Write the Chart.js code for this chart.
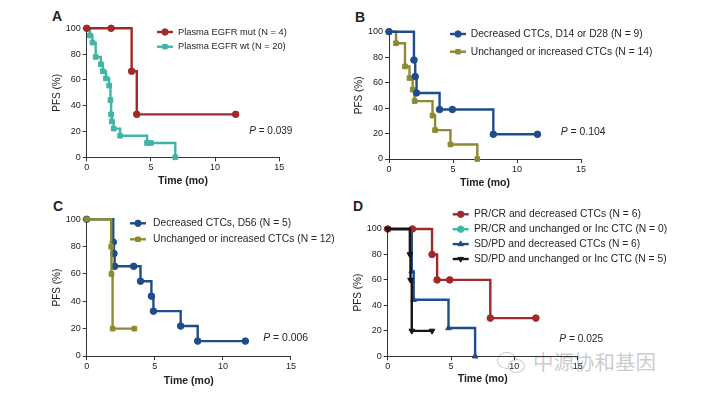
<!DOCTYPE html>
<html>
<head>
<meta charset="utf-8">
<script src="https://cdn.jsdelivr.net/npm/chart.js@4/dist/chart.umd.min.js"></script>
<style>
    body { margin: 0; background: #fff; width: 720px; height: 394px; position: relative; overflow: hidden;
        font-family: "Liberation Sans", Arial, sans-serif; }
    canvas { position: absolute; left: 0; top: 0; }
    .tag { position: absolute; font-weight: bold; font-size: 14px; line-height: 14px; color: #222; }
    .wm { position: absolute; left: 533px; top: 349px; font-family: "Noto Sans CJK SC", sans-serif;
        font-size: 20.5px; line-height: 24px; color: rgba(160,160,160,0.55); }
    .wm-icon { position: absolute; left: 497px; top: 352px; width: 18px; height: 15px;
        border: 1.5px solid rgba(160,160,160,0.55); border-radius: 50%; }
    .wm-icon2 { position: absolute; left: 508px; top: 359px; width: 15px; height: 12px;
        border: 1.5px solid rgba(160,160,160,0.55); border-radius: 50%; background: #fff; }
</style>
</head>
<body>
<div class="tag" style="left:52px;top:9px">A</div>
<div class="tag" style="left:355px;top:10px">B</div>
<div class="tag" style="left:53px;top:199px">C</div>
<div class="tag" style="left:353px;top:199px">D</div>
<div class="wm-icon"></div><div class="wm-icon2"></div>
<div class="wm">中源协和基因</div>

<canvas id="chartA" width="720" height="394"></canvas>
<canvas id="chartB" width="720" height="394"></canvas>
<canvas id="chartC" width="720" height="394"></canvas>
<canvas id="chartD" width="720" height="394"></canvas>

<script>
// ---- data (time in months, PFS in %) ----
const xTicks = [0, 5, 10, 15];
const yTicks = [0, 20, 40, 60, 80, 100];

// A
const aMutTime = [0, 1.9, 3.5, 3.9, 11.6];
const aMutPfs  = [100, 100, 66.7, 33.3, 33.3];
const aWtTime  = [0, 0.25, 0.45, 0.7, 1.1, 1.25, 1.5, 1.75, 1.85, 1.9, 1.95, 2.1, 2.6, 4.7, 5.0, 6.9];
const aWtPfs   = [100, 94.4, 88.9, 77.8, 72.2, 66.7, 61.1, 55.6, 44.4, 33.3, 27.8, 22.2, 16.7, 11.1, 11.1, 0];
const aLabels  = ['Plasma EGFR mut (N = 4)', 'Plasma EGFR wt (N = 20)'];
const aP = '0.039';

// B
const bDecTime = [0, 1.95, 2.05, 2.15, 3.95, 4.95, 8.15, 11.6];
const bDecPfs  = [100, 77.8, 64.8, 51.9, 38.9, 38.9, 19.4, 19.4];
const bIncTime = [0, 0.55, 1.25, 1.6, 1.85, 2.0, 3.4, 3.6, 4.8, 6.9];
const bIncPfs  = [100, 90.9, 72.7, 63.6, 54.5, 45.5, 34.1, 22.7, 11.4, 0];
const bLabels  = ['Decreased CTCs, D14 or D28 (N = 9)', 'Unchanged or increased CTCs (N = 14)'];
const bP = '0.104';

// C
const cDecTime = [0, 1.95, 2.0, 2.05, 3.45, 3.95, 4.75, 4.9, 6.9, 8.15, 11.65];
const cDecPfs  = [100, 83.3, 75, 65.6, 65.6, 54.7, 43.8, 32.8, 21.9, 10.9, 10.9];
const cIncTime = [0, 1.8, 1.82, 1.9, 3.5];
const cIncPfs  = [100, 80, 60, 20, 20];
const cLabels  = ['Decreased CTCs, D56 (N = 5)', 'Unchanged or increased CTCs (N = 12)'];
const cP = '0.006';

// D
const dPrDecTime = [0, 1.95, 3.5, 3.9, 4.9, 8.1, 11.7];
const dPrDecPfs  = [100, 100, 80, 60, 60, 30, 30];
const dPrIncTime = [];
const dPrIncPfs  = [];
const dSdDecTime = [0, 1.9, 2.05, 4.8, 6.9];
const dSdDecPfs  = [100, 66.7, 44.4, 22.2, 0];
const dSdIncTime = [0, 1.75, 1.8, 1.9, 3.5];
const dSdIncPfs  = [100, 80, 60, 20, 20];
const dLabels = ['PR/CR and decreased CTCs (N = 6)', 'PR/CR and unchanged or Inc CTC (N = 0)',
    'SD/PD and decreased CTCs (N = 6)', 'SD/PD and unchanged or Inc CTC (N = 5)'];
const dP = '0.025';

const FONT = '"Liberation Sans", Arial, sans-serif';
const RED = '#a1282b', TEAL = '#3fb5a6', BLUE = '#1f4c8a', OLIVE = '#8c8a33', BLACK = '#151515';

function km(label, t, s, color, style, extra) {
    return Object.assign({
        label: label,
        data: t.map((x, i) => ({ x: x, y: s[i] })),
        borderColor: color,
        backgroundColor: color,
        borderWidth: 2.4,
        stepped: true,
        pointStyle: style,
        pointRadius: 3.3,
        pointBorderWidth: 1,
        pointHoverRadius: 3.3,
        clip: false,
        fill: false
    }, extra || {});
}

// legend + P value drawn onto the canvas
const kmText = {
    id: 'kmText',
    afterDraw(chart, args, o) {
        const ctx = chart.ctx;
        ctx.save();
        chart.data.datasets.forEach((ds, i) => {
            const y = o.y + i * o.dy;
            ctx.strokeStyle = ds.borderColor;
            ctx.lineWidth = 2.4;
            ctx.beginPath();
            ctx.moveTo(o.x, y);
            ctx.lineTo(o.x + 16, y);
            ctx.stroke();
            ctx.fillStyle = ds.borderColor;
            ctx.lineWidth = 1;
            Chart.helpers.drawPoint(ctx, {
                pointStyle: ds.pointStyle, radius: 3.2, rotation: ds.pointRotation || 0, borderWidth: 1
            }, o.x + 8, y);
            ctx.fillStyle = '#262626';
            ctx.font = o.size + 'px ' + FONT;
            ctx.textBaseline = 'middle';
            ctx.fillText(ds.label, o.x + o.gap, y);
        });
        ctx.fillStyle = '#262626';
        ctx.textBaseline = 'middle';
        ctx.font = 'italic ' + o.pSize + 'px ' + FONT;
        ctx.fillText('P', o.px, o.py);
        const w = ctx.measureText('P').width;
        ctx.font = o.pSize + 'px ' + FONT;
        ctx.fillText(' = ' + o.p, o.px + w, o.py);
        ctx.restore();
    }
};

function makeChart(id, datasets, area, text) {
    // area: chart area box + axis widths, all in page pixels
    const tickFont = { family: FONT, size: 9 };
    new Chart(document.getElementById(id), {
        type: 'line',
        data: { datasets: datasets },
        plugins: [kmText],
        options: {
            responsive: false,
            animation: false,
            events: [],
            layout: {
                padding: {
                    left: area.left - area.yw,
                    top: area.top,
                    right: 720 - area.right,
                    bottom: 394 - area.bottom - area.xh
                }
            },
            plugins: { legend: { display: false }, tooltip: { enabled: false }, kmText: text },
            scales: {
                x: {
                    type: 'linear', min: 0, max: 15,
                    afterFit: s => { s.height = area.xh; },
                    afterBuildTicks: s => { s.ticks = xTicks.map(v => ({ value: v })); },
                    ticks: { font: tickFont, color: '#222', padding: 1, maxRotation: 0 },
                    grid: { drawOnChartArea: false, tickLength: 4, color: '#333' },
                    border: { color: '#333', width: 1 },
                    title: { display: true, text: 'Time (mo)', color: '#222', padding: 0,
                        font: { family: FONT, size: 10.5, weight: 'bold' } }
                },
                y: {
                    type: 'linear', min: 0, max: 100,
                    afterFit: s => { s.width = area.yw; },
                    afterBuildTicks: s => { s.ticks = yTicks.map(v => ({ value: v })); },
                    ticks: { font: tickFont, color: '#222', padding: 2 },
                    grid: { drawOnChartArea: false, tickLength: 4, color: '#333' },
                    border: { color: '#333', width: 1 },
                    title: { display: true, text: 'PFS (%)', color: '#222', padding: 0,
                        font: { family: FONT, size: 10 } }
                }
            }
        }
    });
}

makeChart('chartA', [
    km(aLabels[0], aMutTime, aMutPfs, RED, 'circle'),
    km(aLabels[1], aWtTime, aWtPfs, TEAL, 'rect')
], { left: 86.7, top: 28.3, right: 279.3, bottom: 157.3, yw: 35, xh: 30.3 },
   { x: 157, y: 32, dy: 14.7, gap: 21, size: 9.3, px: 249.3, py: 131, pSize: 10, p: aP });

makeChart('chartB', [
    km(bLabels[0], bDecTime, bDecPfs, BLUE, 'circle'),
    km(bLabels[1], bIncTime, bIncPfs, OLIVE, 'rect')
], { left: 389, top: 31.7, right: 581, bottom: 159, yw: 35.6, xh: 30.6 },
   { x: 450, y: 34, dy: 17.7, gap: 20.7, size: 10.3, px: 560.7, py: 132, pSize: 10.4, p: bP });

makeChart('chartC', [
    km(cLabels[0], cDecTime, cDecPfs, BLUE, 'circle'),
    km(cLabels[1], cIncTime, cIncPfs, OLIVE, 'rect', { order: -1 })
], { left: 86.7, top: 219.3, right: 291, bottom: 356, yw: 35, xh: 31.3 },
   { x: 130, y: 223.3, dy: 16, gap: 23, size: 10.3, px: 263.3, py: 338.3, pSize: 10.4, p: cP });

makeChart('chartD', [
    km(dLabels[0], dPrDecTime, dPrDecPfs, RED, 'circle'),
    km(dLabels[1], dPrIncTime, dPrIncPfs, TEAL, 'circle'),
    km(dLabels[2], dSdDecTime, dSdDecPfs, BLUE, 'triangle'),
    km(dLabels[3], dSdIncTime, dSdIncPfs, BLACK, 'triangle', { pointRotation: 180, order: -1 })
], { left: 387.7, top: 229, right: 577.7, bottom: 356.3, yw: 35, xh: 29.3 },
   { x: 452.7, y: 214.3, dy: 14.9, gap: 21.3, size: 10.3, px: 559.3, py: 339, pSize: 10.2, p: dP });
</script>
</body>
</html>
